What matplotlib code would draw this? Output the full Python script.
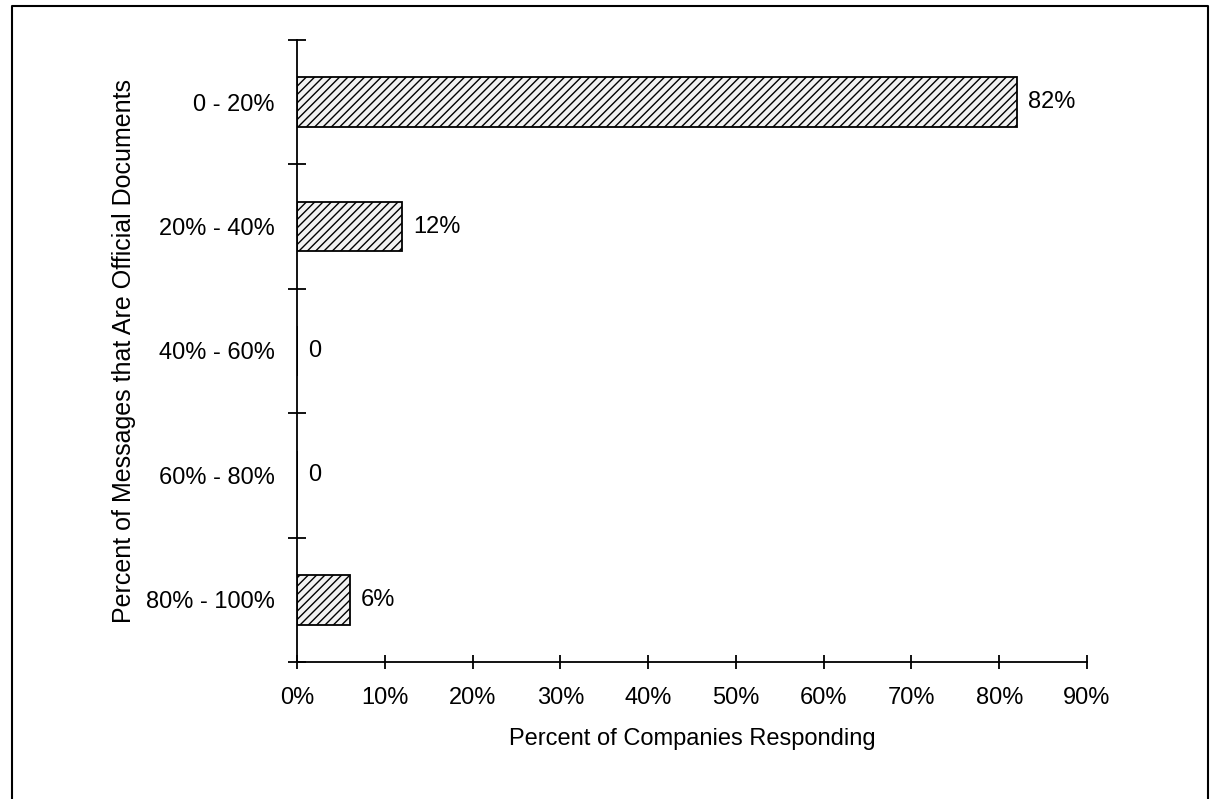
import numpy as np
import matplotlib.pyplot as plt
from matplotlib.lines import Line2D

plt.rcParams['font.family'] = ['Liberation Sans', 'DejaVu Sans']
plt.rcParams['hatch.linewidth'] = 1.0

# data
categories = ['0 - 20%', '20% - 40%', '40% - 60%', '60% - 80%', '80% - 100%']
values = [82, 12, 0, 0, 6]
value_labels = ['82%', '12%', '0', '0', '6%']
x_ticks = [0, 10, 20, 30, 40, 50, 60, 70, 80, 90]

fs = 17

fig = plt.figure(figsize=(12.1, 7.99), dpi=100)
ax = fig.add_axes([297 / 1210, 1 - 662 / 799, 790 / 1210, 622 / 799])

y = np.arange(len(categories))
ax.barh(y, values, height=0.4, color='#f2f2f2', edgecolor='black',
        hatch='////', linewidth=1.3)

for yi, v, lab in zip(y, values, value_labels):
    ax.text(v + 1.3, yi, lab, va='center', ha='left', fontsize=fs)

ax.set_xlim(0, 90)
ax.set_ylim(len(categories) - 0.5, -0.5)
ax.set_xticks(x_ticks)
ax.set_xticklabels([f'{t}%' for t in x_ticks])
ax.set_yticks(y)
ax.set_yticklabels(categories)
ax.set_yticks(np.arange(len(categories) + 1) - 0.5, minor=True)

ax.tick_params(axis='y', which='major', length=0, pad=16, labelsize=fs)
ax.tick_params(axis='y', which='minor', direction='inout', length=13, width=1.3)
ax.tick_params(axis='x', direction='inout', length=10, width=1.3, pad=13, labelsize=fs)

for s in ['top', 'right']:
    ax.spines[s].set_visible(False)
for s in ['left', 'bottom']:
    ax.spines[s].set_linewidth(1.3)

ax.set_xlabel('Percent of Companies Responding', fontsize=fs, labelpad=14)
ax.set_ylabel('Percent of Messages that Are Official Documents', fontsize=18, labelpad=7)

# frame around the figure (bottom edge cut off in the original)
x0, x1, yt = 12 / 1210, 1208 / 1210, 1 - 6 / 799
fig.add_artist(Line2D([x0, x0, x1, x1], [0, yt, yt, 0], color='black', linewidth=1.5))

plt.savefig('out.png', dpi=100)
